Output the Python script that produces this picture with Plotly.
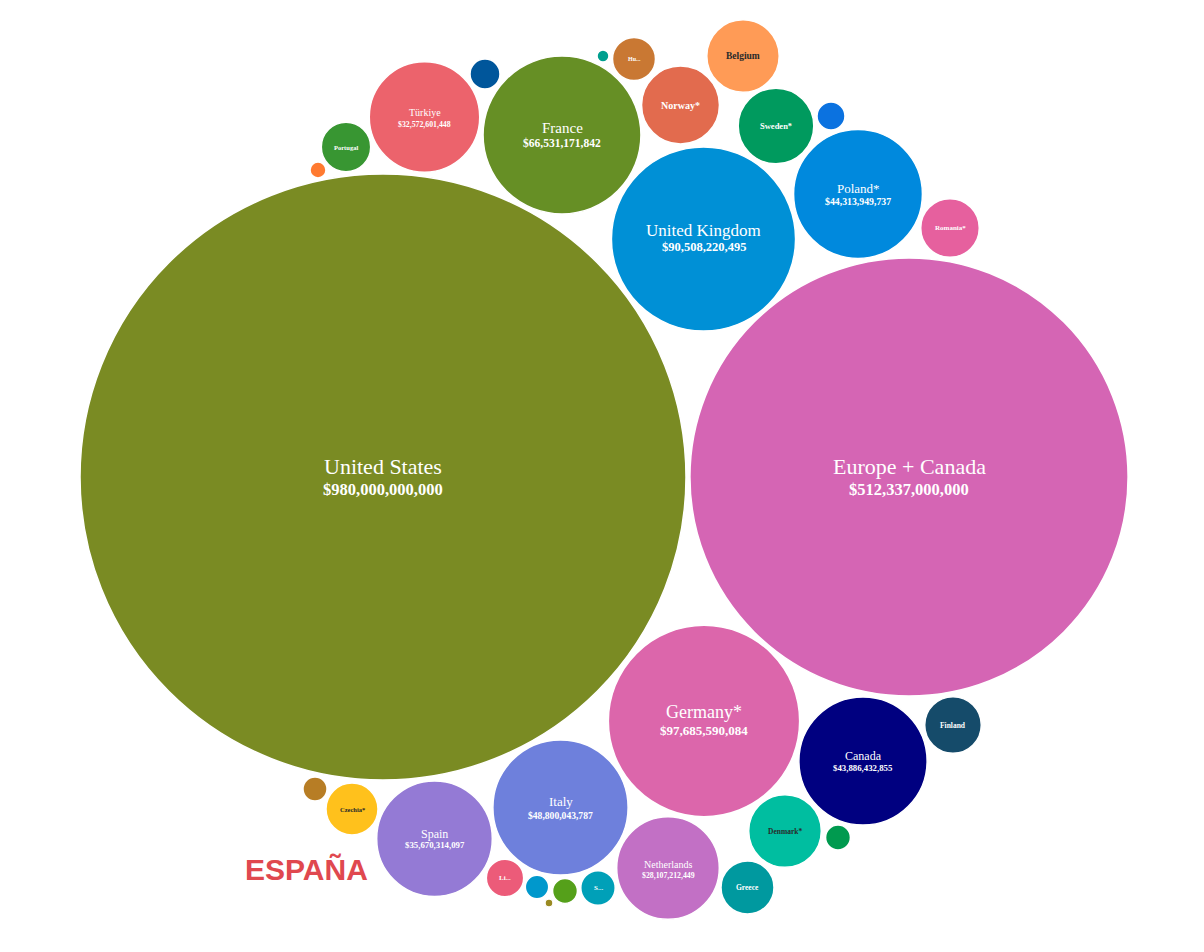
import plotly.graph_objects as go
import math

# ---------------- data ----------------
names = ["United States", "Europe + Canada", "Germany*", "United Kingdom", "France",
         "Italy", "Poland*", "Canada", "Spain", "Türkiye", "Netherlands",
         "Norway*", "Sweden*", "Denmark*", "Belgium", "Romania*", "Finland",
         "Greece", "Czechia*", "Portugal", "Hungary", "Lithuania", "Slovakia",
         "Bulgaria", "Slovenia", "Latvia", "Estonia", "Croatia", "Albania",
         "Luxembourg", "North Macedonia", "Montenegro"]
values = [980000000000, 512337000000, 97685590084, 90508220495, 66531171842,
          48800043787, 44313949737, 43886432855, 35670314097, 32572601448, 28107212449,
          16200000000, 15250000000, 14070000000, 14000000000, 9160000000, 8550000000,
          7500000000, 7220000000, 6510000000, 4930000000, 3730000000, 3160000000,
          2400000000, 2090000000, 1540000000, 1650000000, 1460000000, 1650000000,
          680000000, 380000000, 170000000]
# label shown inside bubble ("" = none)
short_labels = ["United States", "Europe + Canada", "Germany*", "United Kingdom", "France",
                "Italy", "Poland*", "Canada", "Spain", "Türkiye", "Netherlands",
                "Norway*", "Sweden*", "Denmark*", "Belgium", "Romania*", "Finland",
                "Greece", "Czechia*", "Portugal", "Hu...", "Li...", "S...",
                "", "", "", "", "", "", "", "", ""]

# ---------------- layout / style ----------------
R_MAX = 303.0  # pixel radius of the largest bubble
cx = [383, 909, 704, 703.5, 562, 560.5, 858, 863, 434.5, 424.5, 668,
      680.5, 776, 785, 743, 950, 953, 747.5, 352, 346, 634, 505, 598,
      485, 831, 315, 838, 537, 565, 318, 603, 549]
cy = [477, 477, 721, 239, 135, 807.5, 194, 761, 838.7, 117, 868,
      105, 126, 831, 56, 228, 725, 887.5, 809, 147, 59, 878, 888,
      74, 116, 789, 837.5, 887, 891, 170, 56, 903]
colors = ["#7A8B23", "#D565B4", "#DC66AB", "#0090D6", "#668F25",
          "#6E80DC", "#0089DD", "#000080", "#947AD5", "#EC636C", "#C270C5",
          "#E26B4E", "#009A5E", "#00BEA0", "#FF9B56", "#E6609E", "#154B6A",
          "#00999F", "#FFC11C", "#389632", "#C97833", "#EC5B79", "#00A0B8",
          "#00569B", "#0B72E0", "#B77D25", "#009A4F", "#0098CC", "#55A01A",
          "#FF7A30", "#009F8F", "#9A8A22"]
text_colors = ["white"] * len(names)
for i, n in enumerate(names):
    if n in ("Belgium", "Denmark*", "Czechia*"):
        text_colors[i] = "#2a2a2a"
name_sizes = [22, 22, 18, 17, 15, 13, 13, 12, 12, 10, 10,
              10, 8.5, 7.5, 9.5, 7, 7.5, 7.5, 6.5, 6.5, 6, 7, 7,
              0, 0, 0, 0, 0, 0, 0, 0, 0]
value_sizes = [16.5, 16.5, 13, 12.5, 11.5, 9.6, 9.8, 8.8, 8.8, 7.8, 7.8,
               0, 0, 0, 0, 0, 0, 0, 0, 0, 0, 0, 0,
               0, 0, 0, 0, 0, 0, 0, 0, 0]
name_offsets = [-11, -11, -9, -9, -7, -6, -6, -5, -5, -5, -4]
value_offsets = [12, 12, 9, 8, 8, 8, 7, 7, 6, 7, 7]

W, H = 1204, 952
SERIF = "Liberation Serif, Times New Roman, serif"

fig = go.Figure()
shapes = []
annotations = []
for i, (n, v) in enumerate(zip(names, values)):
    r = R_MAX * math.sqrt(v / values[0])
    shapes.append(dict(type="circle", xref="x", yref="y",
                       x0=cx[i] - r, x1=cx[i] + r, y0=cy[i] - r, y1=cy[i] + r,
                       fillcolor=colors[i], line=dict(color="white", width=1.5),
                       layer="below"))
    lab = short_labels[i]
    if not lab:
        continue
    if value_sizes[i] > 0:
        annotations.append(dict(x=cx[i], y=cy[i] + name_offsets[i], xref="x", yref="y",
                                text=lab, showarrow=False,
                                font=dict(family=SERIF, size=name_sizes[i], color=text_colors[i])))
        annotations.append(dict(x=cx[i], y=cy[i] + value_offsets[i], xref="x", yref="y",
                                text="<b>$" + f"{v:,.0f}" + "</b>", showarrow=False,
                                font=dict(family=SERIF, size=value_sizes[i], color=text_colors[i])))
    else:
        annotations.append(dict(x=cx[i], y=cy[i], xref="x", yref="y",
                                text="<b>" + lab + "</b>", showarrow=False,
                                font=dict(family=SERIF, size=name_sizes[i], color=text_colors[i])))

# invisible hover points
fig.add_trace(go.Scatter(x=cx, y=cy, mode="markers",
                         marker=dict(size=1, opacity=0),
                         text=[f"{n}: ${v:,.0f}" for n, v in zip(names, values)],
                         hoverinfo="text", showlegend=False))

annotations.append(dict(x=306.5, y=869, xref="x", yref="y", text="<b>ESPAÑA</b>",
                        showarrow=False,
                        font=dict(family="Liberation Sans, Arial, sans-serif", size=30,
                                  color="#E0484F")))

fig.update_layout(
    width=W, height=H,
    margin=dict(l=0, r=0, t=0, b=0),
    paper_bgcolor="white", plot_bgcolor="white",
    shapes=shapes, annotations=annotations,
    xaxis=dict(range=[0, W], visible=False, fixedrange=True),
    yaxis=dict(range=[H, 0], visible=False, fixedrange=True),
    showlegend=False,
)

fig.write_html("out.html", config={"displayModeBar": False},
               post_script="document.body.style.margin='0';")
